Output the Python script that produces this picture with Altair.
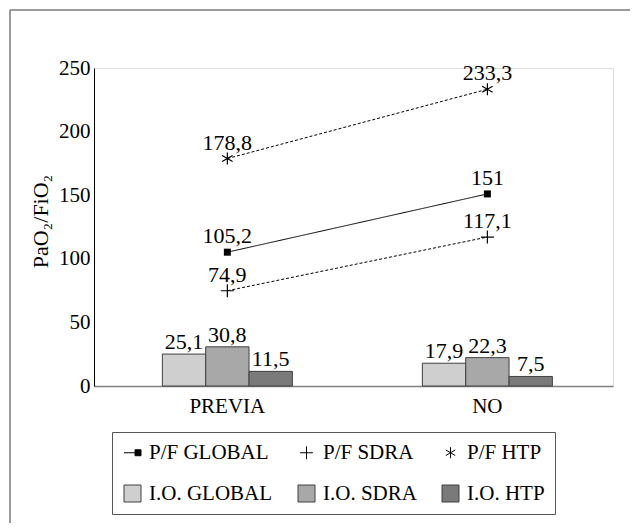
import altair as alt
import pandas as pd

categories = ["PREVIA", "NO"]
pf_global = [105.2, 151]
pf_sdra = [74.9, 117.1]
pf_htp = [178.8, 233.3]
io_global = [25.1, 17.9]
io_sdra = [30.8, 22.3]
io_htp = [11.5, 7.5]

series_all = ["P/F GLOBAL", "P/F SDRA", "P/F HTP", "I.O. GLOBAL", "I.O. SDRA", "I.O. HTP"]
pf_series = series_all[:3]
io_series = series_all[3:]
values_by_series = [pf_global, pf_sdra, pf_htp, io_global, io_sdra, io_htp]

rows = []
for s, vals in zip(series_all, values_by_series):
    for c, v in zip(categories, vals):
        rows.append({"cat": c, "series": s, "value": v,
                     "label": f"{v:g}".replace(".", ",")})
df = pd.DataFrame(rows)
df_pf = df[df.series.isin(pf_series)]
df_io = df[df.series.isin(io_series)]

FONT = "Liberation Serif"
fill_range = ["#000000", "#000000", "#000000", "#cfcfcf", "#a8a8a8", "#7a7a7a"]
stroke_range = ["#000000", "#000000", "#000000", "#404040", "#404040", "#404040"]
legend_shapes = [
    "M-1,0H0.3M0.3,-0.35H1V0.35H0.3Z",
    "M-0.75,0H0.75M0,-0.75V0.75",
    "M0,-0.65V0.65M-0.56,-0.33L0.56,0.33M-0.56,0.33L0.56,-0.33",
    "square", "square", "square",
]

legend = alt.Legend(
    title=None, orient="none", legendX=18, legendY=364, columns=3,
    direction="horizontal",
    strokeColor="#555555", padding=10, cornerRadius=0,
    labelFont=FONT, labelFontSize=21, labelColor="black", labelOffset=6,
    symbolSize=289, symbolStrokeWidth=1,
    symbolOpacity=1, columnPadding=23, rowPadding=19, labelLimit=300,
)

x_enc = alt.X("cat:N", sort=categories,
              scale=alt.Scale(domain=categories, paddingInner=0.5, paddingOuter=0.248, align=0.53),
              axis=alt.Axis(title=None, labelAngle=0, ticks=False, domainColor="#808080",
                            domainWidth=1.5, labelFont=FONT, labelFontSize=21,
                            labelColor="black", labelPadding=9))
y_enc = alt.Y("value:Q",
              scale=alt.Scale(domain=[0, 250], nice=False),
              axis=alt.Axis(title="PaO₂/FiO₂", values=[0, 50, 100, 150, 200, 250],
                            ticks=False, grid=False, domainColor="black", domainWidth=1,
                            labelFont=FONT, labelFontSize=21, labelColor="black",
                            labelPadding=4, titleFont=FONT, titleFontSize=22,
                            titleFontWeight="normal", titleColor="black",
                            titleX=-54, titleY=153, titleAlign="center",
                            titleBaseline="middle"))
fill_scale = alt.Scale(domain=series_all, range=fill_range)

bars = alt.Chart(df_io).mark_bar(stroke="#404040", strokeWidth=1).encode(
    x=x_enc, y=y_enc,
    xOffset=alt.XOffset("series:N", sort=io_series,
                        scale=alt.Scale(domain=io_series, paddingInner=0, paddingOuter=0)),
    fill=alt.Fill("series:N", scale=fill_scale, legend=legend),
)
bar_labels = alt.Chart(df_io).mark_text(font=FONT, fontSize=22, baseline="alphabetic",
                                        dy=-5, color="black").encode(
    x=x_enc, y=y_enc,
    xOffset=alt.XOffset("series:N", sort=io_series,
                        scale=alt.Scale(domain=io_series, paddingInner=0, paddingOuter=0)),
    text="label:N",
)

lines = alt.Chart(df_pf).mark_line(color="black", strokeWidth=1).encode(
    x=x_enc, y=y_enc, detail="series:N",
    strokeDash=alt.StrokeDash("series:N",
                              scale=alt.Scale(domain=pf_series, range=[[1, 0], [3, 2], [3, 2]]),
                              legend=None),
)

marker_defs = [
    ("P/F GLOBAL", "square", 49, True),
    ("P/F SDRA", "M-1,0H1M0,-1V1", 169, False),
    ("P/F HTP", "M0,-1V1M-0.87,-0.5L0.87,0.5M-0.87,0.5L0.87,-0.5", 144, False),
]
markers = []
for s, shp, size, filled in marker_defs:
    markers.append(
        alt.Chart(df_pf).transform_filter(alt.datum.series == s).mark_point(
            shape=shp, size=size, filled=filled, color="black", strokeWidth=1.2, opacity=1
        ).encode(x=x_enc, y=y_enc)
    )

pf_labels = alt.Chart(df_pf).mark_text(font=FONT, fontSize=22, baseline="alphabetic",
                                       dy=-9, color="black").encode(
    x=x_enc, y=y_enc, text="label:N")

legend_layer = alt.Chart(df).mark_point(opacity=0, strokeWidth=1).encode(
    x=x_enc, y=y_enc,
    shape=alt.Shape("series:N", scale=alt.Scale(domain=series_all, range=legend_shapes),
                    legend=legend),
    fill=alt.Fill("series:N", scale=fill_scale, legend=legend),
    stroke=alt.Stroke("series:N", scale=alt.Scale(domain=series_all, range=stroke_range),
                      legend=legend),
)

one = alt.Data(values=[{"a": 1}])
frame_h = alt.Chart(one).mark_rule(color="#7a7a7a", strokeWidth=1.5).encode(
    x=alt.value(-84), x2=alt.value(560), y=alt.value(-58))
frame_v = alt.Chart(one).mark_rule(color="#7a7a7a", strokeWidth=1.5).encode(
    x=alt.value(-84), y=alt.value(-58), y2=alt.value(470))

chart = alt.layer(frame_h, frame_v, bars, bar_labels, lines, *markers, pf_labels, legend_layer).properties(
    width=519, height=318,
    autosize=alt.AutoSizeParams(type="none"),
    padding={"left": 86, "top": 60, "right": 17, "bottom": 137},
).configure_view(stroke=None).configure(background="white")

chart.save("out.html", embed_options={"renderer": "svg", "actions": False})
